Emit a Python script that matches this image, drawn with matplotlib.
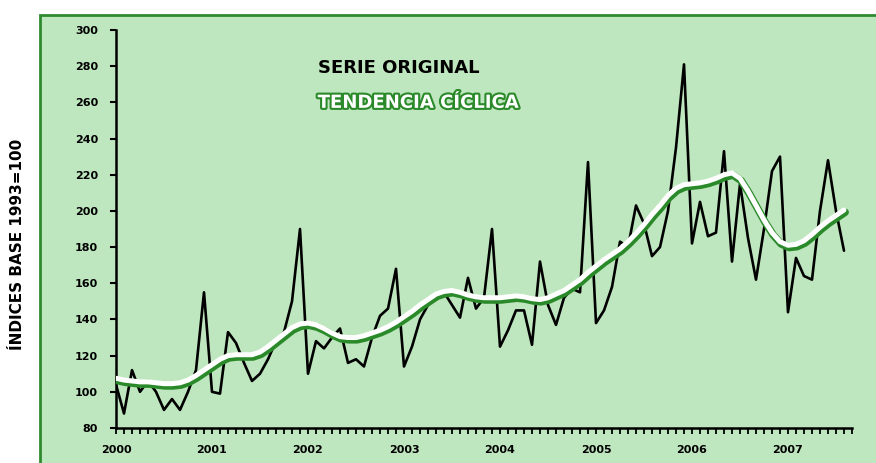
import matplotlib
matplotlib.use("Agg")
import matplotlib.pyplot as plt
import matplotlib.patheffects as pe
import matplotlib.transforms as mtransforms
from matplotlib.patches import Rectangle

# monthly index, Jan 2000 .. Aug 2007
serie_original = [
    104, 88, 112, 100, 106, 100, 90, 96, 90, 100, 112, 155,   # 2000
    100, 99, 133, 127, 116, 106, 110, 118, 128, 133, 150, 190,  # 2001
    110, 128, 124, 130, 135, 116, 118, 114, 130, 142, 146, 168,  # 2002
    114, 125, 140, 148, 153, 155, 148, 141, 163, 146, 152, 190,  # 2003
    125, 134, 145, 145, 126, 172, 148, 137, 152, 157, 155, 227,  # 2004
    138, 145, 158, 183, 180, 203, 193, 175, 180, 200, 235, 281,  # 2005
    182, 205, 186, 188, 233, 172, 215, 185, 162, 190, 222, 230,  # 2006
    144, 174, 164, 162, 200, 228, 200, 178,                      # 2007
]

tendencia_ciclica = [
    107.5, 106.5, 106, 105.5, 105.5, 105, 104.5, 104.5, 105, 106.5, 109, 112,
    115, 118, 120, 120.5, 120.5, 120.5, 122, 125, 128.5, 132, 135.5, 137.5,
    138, 137, 135, 132.5, 130.5, 130, 130, 131, 132.5, 134, 136, 138.5,
    141.5, 144.5, 148, 151, 154, 155.5, 156, 155, 153.5, 152.5, 152, 152,
    152, 152.5, 153, 152.5, 151.5, 151, 152, 154, 156, 159, 162, 166,
    169.5, 173, 176, 179, 183, 187.5, 192.5, 198, 203, 208.5, 212.5, 214.5,
    215, 215.5, 216.5, 218, 220, 221, 218, 211, 203, 195, 188, 183,
    181, 181.5, 183.5, 187, 191, 194.5, 197.5, 200.5,
]

years = ["2000", "2001", "2002", "2003", "2004", "2005", "2006", "2007"]
y_ticks = [80, 100, 120, 140, 160, 180, 200, 220, 240, 260, 280, 300]

plt.rcParams['font.family'] = ['DejaVu Sans']
plt.rcParams['font.weight'] = 'bold'

fig = plt.figure(figsize=(8.76, 4.63), dpi=100)
fig.patch.set_facecolor('white')

# green panel behind the chart
bg = fig.add_axes([0, 0, 1, 1], zorder=-1)
bg.set_axis_off()
bg.set_xlim(0, 876)
bg.set_ylim(463, 0)
bg.add_patch(Rectangle((40, 15), 840, 460, facecolor='#bfe7bf',
                       edgecolor='#2f8a2f', linewidth=2.0))

ax = fig.add_axes([116 / 876, 35 / 463, (852 - 116) / 876, (428 - 30) / 463], zorder=1)
ax.set_facecolor('none')

months = list(range(len(serie_original)))
t_months = list(range(len(tendencia_ciclica)))

ax.plot(months, serie_original, color='black', lw=1.9, zorder=3,
        solid_joinstyle='round', solid_capstyle='round')

# trend: white line with a dark green halo offset slightly down
shadow = mtransforms.offset_copy(ax.transData, fig=fig, x=0.8, y=-1.6, units='points')
ax.plot(t_months, tendencia_ciclica, color='#2a8a2a', lw=5.5, transform=shadow,
        solid_capstyle='round', solid_joinstyle='round', zorder=4)
ax.plot(t_months, tendencia_ciclica, color='white', lw=3.6,
        solid_capstyle='round', solid_joinstyle='round', zorder=5)

ax.set_xlim(0, 92)
ax.set_ylim(80, 300)

ax.set_yticks(y_ticks)
ax.set_yticklabels([str(v) for v in y_ticks], fontsize=8, fontweight='bold')
ax.set_xticks([12 * k for k in range(len(years))])
ax.set_xticklabels(years, fontsize=8, fontweight='bold')
ax.set_xticks(range(0, 93), minor=True)

ax.tick_params(axis='y', direction='out', length=4, width=1.5, pad=9)
ax.tick_params(axis='x', which='both', direction='out', length=4, width=1.3, pad=8)

for side in ['top', 'right']:
    ax.spines[side].set_visible(False)
for side in ['left', 'bottom']:
    ax.spines[side].set_linewidth(1.8)

ax.text(0.274, 0.905, "SERIE ORIGINAL", transform=ax.transAxes, fontsize=13,
        fontweight='bold', color='black', va='center', ha='left')
ax.text(0.274, 0.817, "TENDENCIA CÍCLICA", transform=ax.transAxes, fontsize=13,
        fontweight='bold', color='white', va='center', ha='left',
        path_effects=[pe.withStroke(linewidth=3, foreground='#2a8a2a')])

fig.text(18 / 876, 1 - 244 / 463, "ÍNDICES BASE 1993=100", rotation=90, fontsize=11,
         fontweight='bold', ha='center', va='center')

fig.savefig("out.png", dpi=100)
